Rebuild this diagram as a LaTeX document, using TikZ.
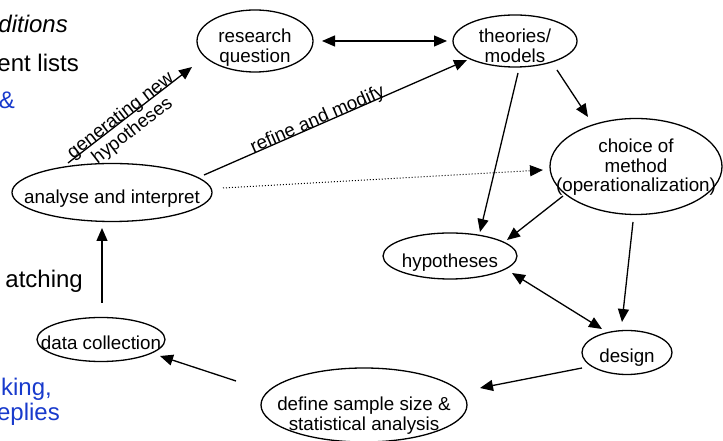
\documentclass[tikz,border=0pt]{standalone}
\usepackage{fontspec}
\setmainfont{Liberation Sans}
\usetikzlibrary{shapes.geometric,arrows.meta,calc}
\definecolor{slideblue}{RGB}{24,58,204}
\newcommand\ntext[2]{\makebox[0pt]{\raisebox{-#1pt}{\begin{tabular}[t]{@{}c@{}}#2\end{tabular}}}}
\begin{document}
\begin{tikzpicture}[x=1pt,y=1pt,
  oval/.style={ellipse, draw, line width=1.3pt, inner sep=0pt, text height=0pt, text depth=0pt, font=\fontsize{18.8}{18.4}\selectfont},
  arr/.style={line width=1.3pt, -{Triangle[length=13pt,width=11pt]}},
  darr/.style={line width=1.3pt, {Triangle[length=13pt,width=11pt]}-{Triangle[length=13pt,width=11pt]}},
  dotarr/.style={line width=1pt, dash pattern=on 1pt off 2pt, -{Triangle[length=13pt,width=11pt]}},
  lbl/.style={font=\fontsize{18.8}{18.4}\selectfont, inner sep=0pt},
  side/.style={font=\fontsize{24}{24}\selectfont, inner sep=0pt, anchor=base east},
]
\useasboundingbox (0,0) rectangle (723,441);

% background slide fragments
\node[side, font=\fontsize{24}{24}\selectfont\itshape] (s1) at (68,408) {ditions};
\node[side] (s2) at (79,369) {ent lists};
\node[side, text=slideblue] (s3) at (15,332) {\&};
\node[side] (s4) at (83,153) {atching};
\node[side, text=slideblue] (s5) at (52,45) {king,};
\node[side, text=slideblue] (s6) at (60,20) {eplies};

% ellipses
\node[oval, minimum width=116pt, minimum height=62pt] (rq) at (255,400) {\ntext{2}{research\\question}};
\node[oval, minimum width=124pt, minimum height=52pt] (th) at (515,400) {\ntext{2}{theories/\\models}};
\node[oval, minimum width=172pt, minimum height=96pt] (ch) at (636,274.5) {\ntext{-13.5}{choice of\\method\\(operationalization)}};
\node[oval, minimum width=134pt, minimum height=46pt] (hy) at (450,185) {\ntext{11.5}{hypotheses}};
\node[oval, minimum width=90pt, minimum height=44pt] (de) at (627,88.5) {\ntext{10.5}{design}};
\node[oval, minimum width=206pt, minimum height=74pt] (sa) at (364,36) {\ntext{6}{define sample size \&\\statistical analysis}};
\node[oval, minimum width=128pt, minimum height=44pt] (dc) at (101,101.5) {\ntext{10.5}{data collection}};
\node[oval, minimum width=200pt, minimum height=58pt] (an) at (112,248.5) {\ntext{11.5}{analyse and interpret}};

% connectors
\draw[darr] ($(rq)+(67,0)$) -- ($(th)+(-68,0)$);
\draw[arr] ($(an)+(-44,29.5)$) -- node[lbl, sloped, pos=0.45, anchor=base] (l1) {\begin{tabular}[t]{@{}c@{}}generating new\\hypotheses\end{tabular}} ($(rq)+(-63,-26)$);
\draw[arr] ($(an)+(92,17.5)$) -- node[lbl, sloped, pos=0.44, anchor=base] (l2) {refine and modify} ($(th)+(-48,-19)$);
\draw[dotarr] ($(an)+(111,4.5)$) -- ($(ch)+(-93,-3.5)$);
\draw[arr] ($(th)+(3,-32)$) -- ($(hy)+(30,24)$);
\draw[arr] ($(th)+(42,-29)$) -- ($(ch)+(-48,49.5)$);
\draw[arr] ($(ch)+(-73,-29.5)$) -- ($(hy)+(57,16)$);
\draw[arr] ($(ch)+(-3,-55.5)$) -- ($(de)+(-5,30.5)$);
\draw[darr] ($(hy)+(62,-17)$) -- ($(de)+(-25,23.5)$);
\draw[arr] ($(de)+(-45,-15.5)$) -- ($(sa)+(116,17)$);
\draw[arr] ($(sa)+(-128,24)$) -- ($(dc)+(59,-16.5)$);
\draw[arr] ($(dc)+(1,36.5)$) -- ($(an)+(-10,-35.5)$);
\end{tikzpicture}
\end{document}
